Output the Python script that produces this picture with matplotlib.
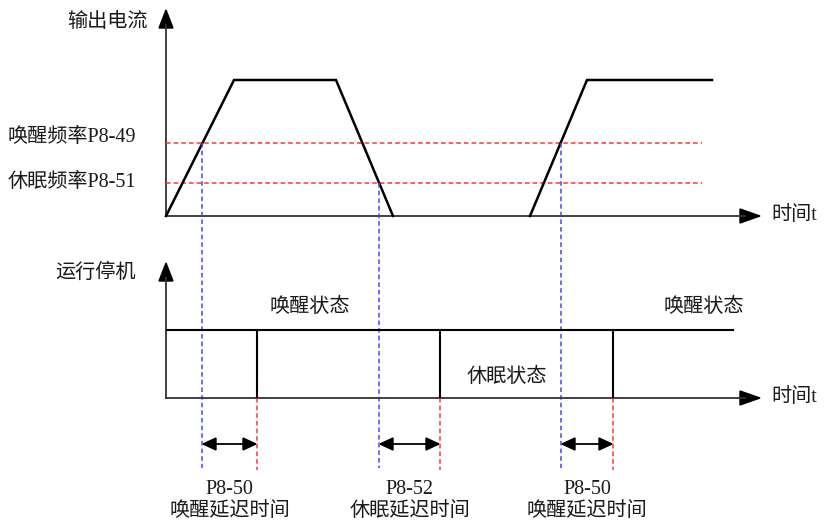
import matplotlib
matplotlib.use("Agg")
import matplotlib.pyplot as plt

plt.rcParams['font.family'] = ['Liberation Serif', 'Noto Sans CJK SC', 'DejaVu Sans']

# ---- data (diagram coordinates, pixel-like units) ----
pulse1_t = [166, 234, 336, 393]
pulse1_v = [216, 80, 80, 216]
pulse2_t = [530, 587, 712]
pulse2_v = [216, 80, 80]
wake_level = 143
sleep_level = 183
threshold_x_end = 702
wake_cross_x = [202, 561]
sleep_cross_x = [379]
state_high_y = 330
state_low_y = 398
state_x_start = 167
state_x_end = 733
state_edges_x = [257, 440, 613]
delay_start_x = [202, 379, 561]
delay_end_x = [257, 440, 613]
delay_codes = ['P8-50', 'P8-52', 'P8-50']
delay_names = ['唤醒延迟时间', '休眠延迟时间', '唤醒延迟时间']
threshold_labels = ['唤醒频率P8-49', '休眠频率P8-51']
threshold_label_y = [137, 182]

fig = plt.figure(figsize=(8.26, 5.22), dpi=100)
ax = fig.add_axes([0, 0, 1, 1])
ax.set_xlim(0, 826)
ax.set_ylim(522, 0)
ax.axis('off')

axis_col = '#333333'
txt_col = '#1a1a1a'
red = '#ff3333'
blue = '#4444ff'
fs = 14.5

def v_axis(x, y0, y1):
    ax.plot([x, x], [y0, y1 + 15], color=axis_col, lw=1.3)
    ax.fill([x - 7, x + 7, x], [y1 + 18, y1 + 18, y1], color='black')

def h_axis(y, x0, x1):
    ax.plot([x0, x1 - 15], [y, y], color=axis_col, lw=1.3)
    ax.fill([x1 - 20, x1 - 20, x1], [y - 7, y + 7, y], color='black')

# top panel axes
v_axis(166, 216, 10)
h_axis(216, 166, 760)
ax.text(148, 22, '输出电流', ha='right', va='center', fontsize=fs, color=txt_col)
ax.text(771, 216, '时间t', ha='left', va='center', fontsize=fs, color=txt_col)

# thresholds
for lvl, lab, ly in zip([wake_level, sleep_level], threshold_labels, threshold_label_y):
    ax.plot([166, threshold_x_end], [lvl, lvl], color=red, lw=1.1,
            linestyle=(0, (3, 2)))
    ax.text(8, ly, lab, ha='left', va='center', fontsize=fs, color=txt_col)

# current waveform
ax.plot(pulse1_t, pulse1_v, color='black', lw=1.8, solid_joinstyle='miter')
ax.plot(pulse2_t, pulse2_v, color='black', lw=1.8, solid_joinstyle='miter')

# blue dashed verticals
for x in wake_cross_x:
    ax.plot([x, x], [wake_level, 468], color=blue, lw=1.1, linestyle=(0, (3, 2)))
for x in sleep_cross_x:
    ax.plot([x, x], [sleep_level, 468], color=blue, lw=1.1, linestyle=(0, (3, 2)))

# bottom panel axes
v_axis(166, 398, 263)
h_axis(398, 166, 760)
ax.text(136, 273, '运行停机', ha='right', va='center', fontsize=fs, color=txt_col)
ax.text(771, 398, '时间t', ha='left', va='center', fontsize=fs, color=txt_col)

# state waveform
ax.plot([state_x_start, state_x_end], [state_high_y, state_high_y], color='black', lw=1.5)
for x in state_edges_x:
    ax.plot([x, x], [state_high_y, state_low_y], color='black', lw=1.5)
    ax.plot([x, x], [state_low_y, 470], color=red, lw=1.1, linestyle=(0, (3, 2)))

ax.text(310, 307, '唤醒状态', ha='center', va='center', fontsize=fs, color=txt_col)
ax.text(704, 307, '唤醒状态', ha='center', va='center', fontsize=fs, color=txt_col)
ax.text(507, 377, '休眠状态', ha='center', va='center', fontsize=fs, color=txt_col)

# delay arrows and labels
ay = 444
for x0, x1, code, name in zip(delay_start_x, delay_end_x, delay_codes, delay_names):
    ax.plot([x0 + 10, x1 - 10], [ay, ay], color='black', lw=1.3)
    ax.fill([x0 + 1, x0 + 14, x0 + 14], [ay, ay - 6, ay + 6], color='black')
    ax.fill([x1 - 1, x1 - 14, x1 - 14], [ay, ay - 6, ay + 6], color='black')
    xc = (x0 + x1) / 2
    ax.text(xc, 489, code, ha='center', va='center', fontsize=fs, color=txt_col)
    ax.text(xc, 512, name, ha='center', va='center', fontsize=fs, color=txt_col)

fig.savefig('out.png', dpi=100)
